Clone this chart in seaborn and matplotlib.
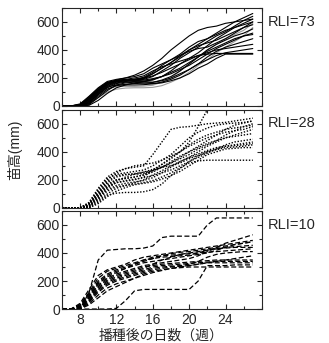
import numpy as np
import pandas as pd
import seaborn as sns
import matplotlib.pyplot as plt
from matplotlib.ticker import MultipleLocator

weeks = list(range(6, 28))

# RLI=73 (solid lines)
rli73_heights = [
    [0, 0, 10, 60, 120, 165, 180, 185, 190, 200, 230, 270, 310, 360, 400, 440, 480, 520, 560, 600, 630, 660],
    [0, 0, 5, 40, 100, 150, 175, 180, 185, 190, 210, 250, 290, 340, 380, 420, 460, 500, 530, 570, 610, 640],
    [0, 0, 0, 20, 80, 130, 160, 170, 175, 178, 185, 210, 250, 300, 340, 380, 430, 480, 520, 560, 590, 620],
    [0, 0, 15, 70, 130, 175, 190, 200, 210, 230, 270, 300, 330, 360, 390, 410, 420, 450, 480, 520, 560, 600],
    [0, 0, 0, 30, 90, 140, 165, 175, 180, 185, 195, 210, 230, 260, 290, 330, 370, 410, 440, 470, 500, 520],
    [0, 0, 5, 50, 110, 160, 180, 185, 180, 175, 170, 180, 200, 230, 260, 300, 350, 390, 420, 440, 460, 480],
    [0, 0, 0, 10, 60, 110, 150, 165, 170, 165, 160, 165, 180, 200, 230, 270, 300, 340, 370, 370, 370, 370],
    [0, 0, 0, 25, 85, 135, 150, 150, 150, 152, 158, 170, 190, 220, 260, 300, 330, 360, 380, 390, 400, 410],
    [0, 0, 10, 55, 115, 165, 185, 190, 200, 215, 250, 280, 300, 320, 340, 360, 380, 400, 410, 420, 430, 440],
    [0, 0, 0, 15, 70, 120, 145, 155, 160, 163, 168, 185, 210, 250, 300, 350, 400, 440, 470, 500, 520, 550],
    [0, 0, 0, 5, 40, 90, 130, 150, 165, 175, 190, 210, 240, 270, 310, 350, 390, 420, 450, 480, 500, 510],
    [0, 0, 5, 45, 105, 155, 175, 185, 190, 198, 215, 240, 270, 300, 330, 360, 370, 375, 375, 375, 375, 375],
    [0, 0, 0, 35, 95, 145, 170, 180, 190, 205, 240, 290, 330, 370, 420, 460, 480, 510, 540, 560, 580, 600],
    [0, 0, 10, 65, 125, 170, 180, 180, 185, 195, 230, 270, 310, 350, 400, 430, 450, 470, 500, 530, 560, 580],
    [0, 0, 5, 50, 110, 160, 185, 200, 220, 250, 290, 340, 400, 450, 500, 540, 560, 570, 590, 600, 610, 620],
]
rli73_grey = [
    [0, 0, 0, 20, 60, 100, 120, 128, 130, 130, 133, 145, 170, 200, 240, 290, 330, 380, 420, 460, 500, 560],
    [0, 0, 0, 30, 80, 120, 140, 140, 140, 142, 148, 170, 200, 250, 300, 350, 400, 440, 480, 510, 540, 590],
]

# RLI=28 (dotted lines)
rli28_heights = [
    [0, 0, 0, 20, 100, 180, 220, 235, 245, 255, 265, 290, 330, 370, 400, 440, 480, 520, 560, 590, 605, 620],
    [0, 0, 0, 40, 140, 220, 260, 280, 290, 300, 380, 470, 560, 575, 580, 590, 600, 605, 610, 620, 630, 640],
    [0, 0, 0, 10, 70, 130, 160, 175, 185, 195, 215, 250, 290, 330, 360, 400, 440, 470, 500, 520, 540, 560],
    [0, 0, 0, 0, 40, 90, 105, 110, 110, 115, 130, 170, 230, 280, 330, 370, 400, 420, 440, 450, 460, 470],
    [0, 0, 0, 30, 110, 190, 230, 240, 240, 245, 265, 290, 320, 350, 380, 420, 450, 480, 520, 550, 580, 600],
    [0, 0, 0, 20, 90, 160, 200, 210, 220, 235, 270, 310, 350, 400, 470, 580, 700, 760, 780, 780, 780, 780],
    [0, 0, 0, 10, 60, 120, 150, 160, 170, 180, 195, 220, 250, 285, 320, 335, 340, 340, 340, 340, 340, 340],
    [0, 0, 0, 30, 120, 200, 250, 280, 300, 310, 320, 340, 370, 400, 440, 470, 500, 520, 540, 550, 560, 580],
    [0, 0, 0, 5, 50, 100, 140, 160, 180, 200, 235, 265, 300, 330, 360, 385, 410, 430, 440, 445, 450, 460],
    [0, 0, 0, 25, 100, 170, 200, 210, 220, 235, 255, 290, 320, 360, 400, 430, 460, 480, 500, 510, 520, 530],
    [0, 0, 0, 15, 80, 150, 190, 220, 240, 255, 275, 290, 300, 320, 350, 375, 400, 415, 430, 435, 440, 450],
    [0, 0, 0, 35, 130, 210, 240, 250, 260, 270, 300, 340, 380, 440, 500, 540, 570, 590, 600, 605, 610, 620],
    [0, 0, 0, 0, 30, 80, 120, 145, 165, 175, 185, 205, 230, 260, 300, 340, 380, 400, 420, 425, 430, 430],
    [0, 0, 0, 20, 90, 150, 180, 190, 200, 220, 270, 310, 360, 400, 450, 490, 520, 540, 560, 570, 580, 590],
    [0, 0, 0, 10, 70, 140, 180, 195, 205, 215, 230, 250, 270, 300, 330, 360, 390, 420, 450, 470, 480, 490],
]

# RLI=10 (dashed lines)
rli10_heights = [
    [0, 0, 0, 120, 350, 420, 425, 430, 430, 435, 450, 510, 520, 520, 520, 520, 600, 650, 650, 650, 650, 650],
    [0, 0, 0, 0, 0, 0, 5, 60, 130, 140, 140, 140, 140, 140, 140, 200, 310, 310, 310, 315, 315, 315],
    [0, 0, 30, 120, 220, 270, 290, 310, 330, 350, 360, 370, 375, 380, 385, 400, 420, 430, 440, 445, 450, 455],
    [0, 0, 20, 100, 190, 240, 270, 290, 310, 330, 340, 350, 360, 370, 380, 390, 400, 420, 440, 460, 470, 480],
    [0, 0, 10, 80, 160, 210, 240, 260, 280, 300, 310, 320, 325, 330, 335, 340, 345, 350, 350, 350, 350, 350],
    [0, 0, 0, 60, 140, 190, 220, 240, 260, 280, 300, 310, 315, 320, 325, 330, 335, 340, 340, 340, 340, 340],
    [0, 0, 40, 140, 240, 280, 300, 320, 350, 370, 380, 390, 400, 410, 420, 430, 440, 450, 460, 470, 480, 490],
    [0, 0, 20, 90, 170, 220, 250, 270, 290, 310, 320, 330, 340, 350, 360, 380, 410, 440, 470, 490, 510, 530],
    [0, 0, 0, 50, 120, 170, 200, 220, 240, 260, 280, 290, 300, 305, 310, 320, 330, 330, 330, 330, 330, 330],
    [0, 0, 10, 70, 150, 200, 230, 250, 270, 290, 320, 350, 370, 390, 400, 410, 420, 430, 435, 440, 440, 440],
    [0, 0, 0, 40, 100, 150, 180, 200, 220, 250, 270, 280, 290, 295, 300, 300, 300, 300, 300, 300, 300, 300],
    [0, 0, 30, 110, 200, 250, 280, 300, 320, 340, 360, 380, 395, 405, 410, 420, 430, 440, 450, 460, 470, 480],
    [0, 0, 5, 60, 130, 180, 210, 230, 250, 270, 290, 300, 305, 310, 320, 340, 370, 390, 400, 405, 410, 410],
    [0, 0, 10, 90, 180, 230, 260, 290, 320, 350, 370, 380, 385, 390, 395, 400, 405, 410, 415, 420, 425, 430],
    [0, 0, 0, 30, 80, 130, 160, 190, 220, 240, 260, 275, 290, 300, 310, 320, 330, 340, 350, 360, 370, 380],
]

panel_labels = ["RLI=73", "RLI=28", "RLI=10"]


def to_long(lines):
    rows = []
    for i, vals in enumerate(lines):
        for w, h in zip(weeks, vals):
            rows.append({"plant": i, "week": w, "height": h})
    return pd.DataFrame(rows)


sns.set_style("ticks")
plt.rcParams['font.family'] = ['Liberation Sans', 'Noto Sans CJK JP', 'DejaVu Sans']

fig = plt.figure(figsize=(3.29, 3.43), dpi=100)
L, W = 0.188, 0.608
bottoms = [0.691, 0.394, 0.099]
H = 0.286

styles = [
    dict(linestyle='-', lw=0.8),
    dict(linestyle=(0, (1, 1.2)), lw=1.0),
    dict(linestyle=(0, (4, 2)), lw=0.9),
]
datasets = [rli73_heights, rli28_heights, rli10_heights]

for k in range(3):
    ax = fig.add_axes([L, bottoms[k], W, H])
    if k == 0:
        sns.lineplot(data=to_long(rli73_grey), x='week', y='height', units='plant',
                     estimator=None, color='#9a9a9a', ax=ax, **styles[0])
    sns.lineplot(data=to_long(datasets[k]), x='week', y='height', units='plant',
                 estimator=None, color='black', ax=ax, **styles[k])
    ax.set_xlim(6, 28)
    ax.set_ylim(0, 700)
    ax.xaxis.set_major_locator(MultipleLocator(4))
    ax.xaxis.set_minor_locator(MultipleLocator(2))
    ax.yaxis.set_major_locator(MultipleLocator(200))
    ax.yaxis.set_minor_locator(MultipleLocator(100))
    ax.set_xticks([8, 12, 16, 20, 24])
    ax.tick_params(which='both', direction='in', top=True, right=True, width=0.8)
    ax.tick_params(which='major', length=3.5, labelsize=10, pad=1.5)
    ax.tick_params(axis='x', which='major', pad=2.5)
    ax.tick_params(which='minor', length=2)
    for s in ax.spines.values():
        s.set_linewidth(0.8)
    ax.set_xlabel('')
    ax.set_ylabel('')
    if k < 2:
        ax.tick_params(labelbottom=False)
    ax.text(1.03, 0.86, panel_labels[k], transform=ax.transAxes,
            fontsize=10.5, va='center', ha='left')

fig.text(0.045, 0.563, '苗高(mm)', rotation=90, fontsize=10, va='center', ha='center')
fig.text(0.49, 0.002, '播種後の日数（週）', fontsize=10, va='bottom', ha='center')

fig.savefig('out.png', dpi=100)
